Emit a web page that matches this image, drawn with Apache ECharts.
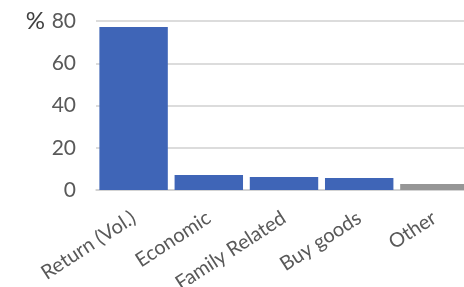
<!DOCTYPE html>
<html>
<head>
<meta charset="utf-8">
<script src="https://cdn.jsdelivr.net/npm/echarts@6/dist/echarts.min.js"></script>
<style>
  html, body { margin: 0; padding: 0; background: #fff; overflow: hidden; }
  /* a bit wider than the window: the last bar runs off the right edge as in the original */
  #chart { width: 472px; height: 287px; }
</style>
</head>
<body>
<div id="chart"></div>
<script>
const categories = ["Return (Vol.)", "Economic", "Family Related", "Buy goods", "Other"];
const values = [77.2, 7.1, 6.2, 5.7, 2.8];
const barColors = ["#3f65b7", "#3f65b7", "#3f65b7", "#3f65b7", "#969696"];

const chart = echarts.init(document.getElementById("chart"));
const font = "Lato, 'Open Sans', sans-serif";

const option = {
  animation: false,
  grid: {
    left: 96,
    top: 21,
    right: 0,
    bottom: 97,
    outerBoundsMode: "none",
  },
  xAxis: {
    type: "category",
    data: categories,
    axisLine: { lineStyle: { color: "#d0d0d0", width: 1.5 } },
    axisTick: { show: false },
    axisLabel: {
      rotate: 33,
      margin: 26,
      interval: 0,
      color: "#595959",
      fontSize: 20,
      fontFamily: font,
    },
  },
  yAxis: {
    type: "value",
    min: 0,
    max: 80,
    interval: 20,
    name: "%",
    nameLocation: "end",
    nameGap: 0,
    nameTextStyle: {
      color: "#404040",
      fontSize: 24,
      fontFamily: font,
      align: "right",
      verticalAlign: "middle",
      padding: [0, 51, 0, 0],
    },
    axisLine: { show: false },
    axisTick: { show: false },
    axisLabel: {
      margin: 20,
      color: "#595959",
      fontSize: 21,
      fontFamily: font,
    },
    splitLine: { lineStyle: { color: "#d0d0d0", width: 1.5 } },
  },
  series: [
    {
      type: "bar",
      barCategoryGap: "9%",
      data: values.map((v, i) => ({ value: v, itemStyle: { color: barColors[i] } })),
    },
  ],
};
chart.setOption(option);
</script>
</body>
</html>
